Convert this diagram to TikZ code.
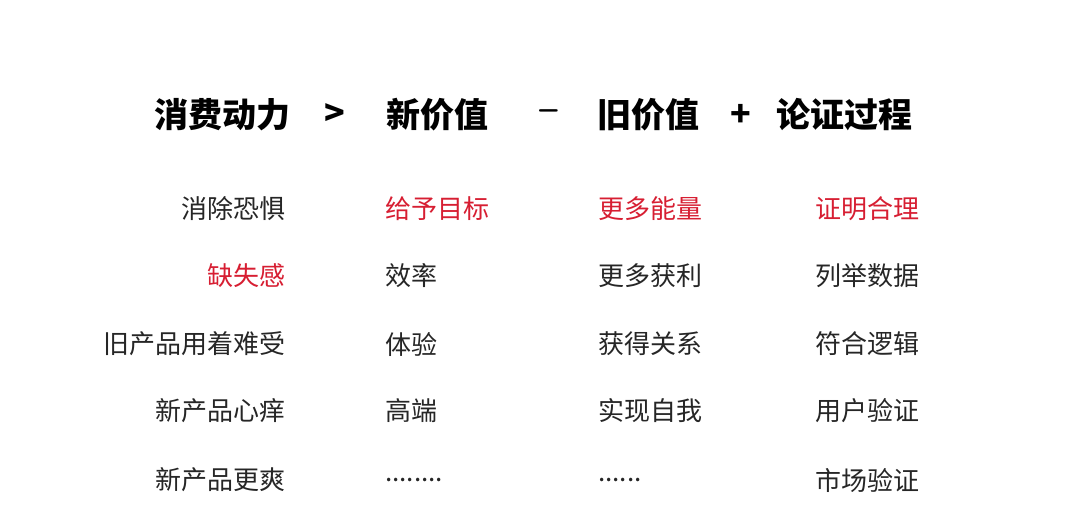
\documentclass[tikz,border=0pt]{standalone}
\usepackage{fontspec}
\newfontfamily\cjk{Noto Sans CJK SC}
\definecolor{hl}{RGB}{215,30,50}
\begin{document}
\begin{tikzpicture}[x=1pt,y=-1pt,
  hd/.style={font=\cjk\bfseries\fontsize{34}{38}\selectfont,inner sep=0pt},
  it/.style={font=\cjk\fontsize{26}{30}\selectfont,inner sep=0pt,text=black!85},
  r/.style={it,anchor=east}, l/.style={it,anchor=west}, red/.style={text=hl}]
\useasboundingbox (0,0) rectangle (1080,507);
\fill[white] (0,0) rectangle (1080,507);
\node[hd,anchor=east] (h1) at (291,115) {消费动力};
\node[hd] (g) at (335,115) {>};
\node[hd,anchor=west] (h2) at (386,115) {新价值};
\node[hd,font=\sffamily\bfseries\fontsize{34}{38}\selectfont] (m) at (549,115) {–};
\node[hd,anchor=west] (h3) at (597,115) {旧价值};
\node[hd] (p) at (741,115) {+};
\node[hd,anchor=west] (h4) at (776,115) {论证过程};
\node[r] (a1) at (286,209) {消除恐惧};
\node[r,red] (a2) at (286,276) {缺失感};
\node[r] (a3) at (286,344) {旧产品用着难受};
\node[r] (a4) at (286,411) {新产品心痒};
\node[r] (a5) at (286,480) {新产品更爽};
\node[l,red] (b1) at (385,209) {给予目标};
\node[l] (b2) at (385,276) {效率};
\node[l] (b3) at (385,344) {体验};
\node[l] (b4) at (385,411) {高端};
\node[l] (b5) at (385,480) {........};
\node[l,red] (c1) at (598,209) {更多能量};
\node[l] (c2) at (598,276) {更多获利};
\node[l] (c3) at (598,344) {获得关系};
\node[l] (c4) at (598,411) {实现自我};
\node[l] (c5) at (598,480) {......};
\node[r,red] (d1) at (920,209) {证明合理};
\node[r] (d2) at (920,276) {列举数据};
\node[r] (d3) at (920,344) {符合逻辑};
\node[r] (d4) at (920,411) {用户验证};
\node[r] (d5) at (920,480) {市场验证};
\end{tikzpicture}
\end{document}
